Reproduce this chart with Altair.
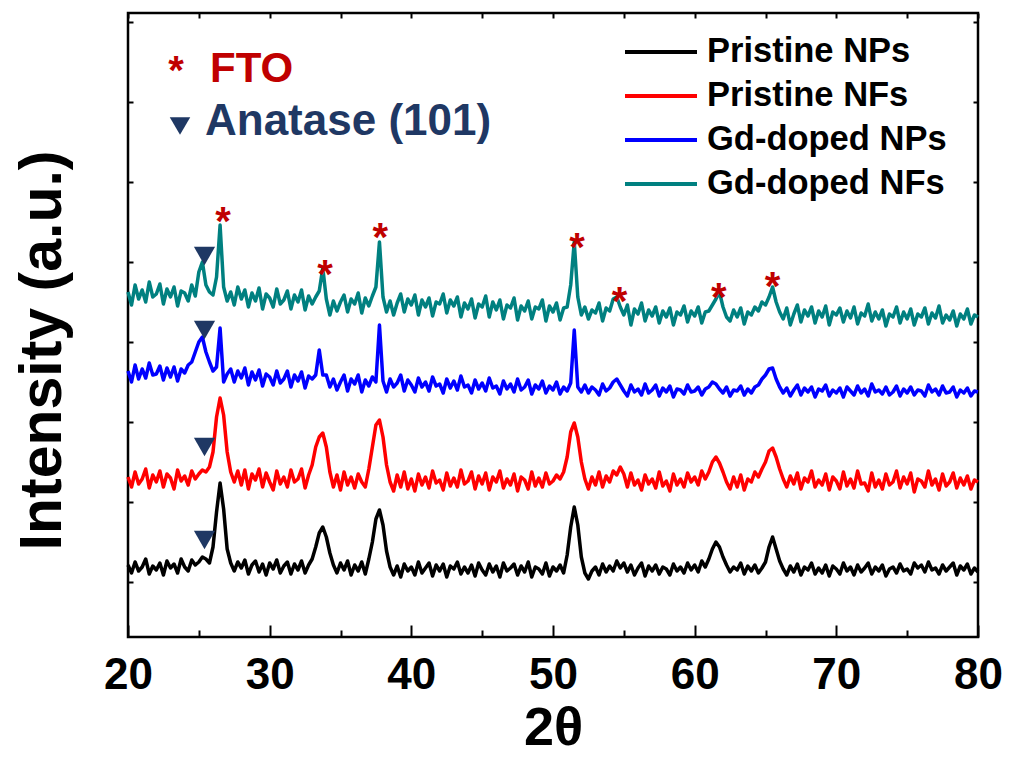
import altair as alt
import pandas as pd

# ---------------- data ----------------
theta = [round(20 + 0.25 * i, 2) for i in range(241)]  # 2-theta sample grid 20..80

series_names = ["Pristine NPs", "Pristine NFs", "Gd-doped NPs", "Gd-doped NFs"]
series_colors = ["#000000", "#ff0000", "#0000ff", "#008080"]

pristine_nps = [
    72, 64, 75, 66,  70, 78, 63, 71,  67, 74, 62, 76,  69, 73, 64, 78,  70, 66, 77, 72,   # 20-24
    75, 80, 78, 74,  90, 125, 154, 128,  88, 74, 66, 75,  69, 77, 63, 72,  76, 65, 73, 62,  # 25-29
    74, 68, 77, 64,  71, 75, 63, 73,  67, 76, 64, 72,  78, 90, 104, 110,  100, 84, 72, 64,  # 30-34
    74, 67, 76, 62,  72, 66, 75, 63,  78, 95, 118, 127,  112, 86, 70, 62,  71, 60, 73, 66,  # 35-39
    70, 62, 75, 64,  69, 74, 61, 72,  66, 73, 60, 71,  68, 75, 63, 70,  64, 72, 61, 74,   # 40-44
    67, 62, 73, 65,  71, 60, 74, 66,  69, 73, 62, 71,  65, 75, 60, 70,  68, 63, 74, 61,   # 45-49
    70, 66, 72, 64,  82, 110, 130, 112,  80, 64, 58, 66,  70, 62, 73, 65,  71, 66, 76, 69,  # 50-54
    74, 65, 72, 62,  69, 74, 61, 71,  66, 72, 63, 70,  68, 62, 73, 66,  70, 64, 74, 67,   # 55-59
    72, 65, 76, 70,  78, 88, 95, 90,  80, 72, 65, 70,  67, 74, 63, 71,  66, 72, 64, 69,   # 60-64
    75, 90, 100, 88,  76, 68, 62, 71,  65, 73, 62, 70,  67, 74, 63, 69,  64, 72, 61, 71,  # 65-69
    68, 63, 74, 66,  70, 62, 72, 65,  69, 74, 63, 70,  66, 72, 61, 68,  70, 64, 73, 66,   # 70-74
    68, 63, 74, 69,  72, 65, 75, 67,  69, 63, 72, 66,  70, 74, 62, 71,  67, 73, 63, 69,   # 75-79
    65,
]

pristine_nfs = [
    160, 150, 165, 153,  158, 168, 149, 162,  155, 166, 150, 163,  159, 148, 167, 156,  161, 152, 166, 158,
    163, 167, 165, 170,  185, 220, 239, 222,  185, 165, 155, 166,  152, 167, 148, 163,  157, 168, 150, 164,
    155, 147, 166, 153,  160, 150, 167, 155,  158, 168, 149, 162,  172, 190, 200, 204,  190, 165, 150, 162,
    147, 165, 152, 160,  149, 163, 155, 150,  168, 190, 212, 217,  200, 172, 155, 146,  162, 150, 165, 148,
    158, 146, 163, 152,  160, 149, 166, 154,  157, 147, 164, 151,  159, 150, 167, 153,  156, 165, 148, 161,
    153, 164, 147, 160,  155, 166, 149, 158,  152, 163, 146, 160,  157, 148, 165, 151,  159, 150, 164, 153,
    156, 162, 158, 165,  180, 205, 214, 200,  175, 158, 148, 160,  152, 165, 150, 161,  155, 166, 162, 170,
    163, 150, 164, 152,  157, 147, 162, 153,  158, 149, 165, 151,  156, 146, 163, 152,  158, 150, 164, 155,
    160, 152, 166, 158,  165, 175, 180, 174,  165, 155, 148, 160,  150, 162, 147, 158,  155, 165, 160, 168,
    175, 186, 189, 180,  168, 158, 150, 161,  153, 164, 148, 159,  155, 166, 150, 157,  152, 163, 147, 160,
    156, 148, 165, 151,  158, 149, 166, 153,  154, 146, 164, 150,  157, 148, 163, 152,  155, 166, 149, 160,
    153, 164, 145, 158,  156, 150, 166, 152,  158, 147, 163, 151,  155, 164, 149, 159,  152, 161, 148, 157,
    155,
]

gd_nps = [
    266, 255, 272, 258,  268, 259, 274, 262,  263, 271, 257, 269,  260, 270, 256, 268,  264, 272, 275, 285,
    295, 300, 285, 275,  266, 270, 309, 255,  263, 268, 255, 266,  259, 269, 252, 265,  257, 267, 251, 263,
    260, 252, 266, 254,  258, 266, 250, 262,  256, 265, 249, 261,  258, 262, 287, 262,  262, 250, 258, 247,
    255, 262, 246, 258,  253, 262, 245, 257,  251, 260, 255, 312,  256, 245, 258, 250,  254, 262, 246, 257,
    252, 245, 259, 250,  255, 246, 260, 251,  253, 244, 258, 249,  256, 247, 261, 250,  252, 244, 257, 248,
    254, 246, 259, 249,  251, 243, 256, 248,  253, 245, 258, 247,  250, 257, 243, 252,  248, 256, 244, 251,
    247, 255, 243, 250,  246, 254, 307, 250,  245, 252, 244, 250,  247, 242, 253, 246,  249, 255, 258, 252,
    246, 241, 252, 245,  248, 242, 253, 244,  247, 252, 241, 249,  245, 251, 240, 248,  247, 243, 252, 245,
    246, 250, 242, 248,  250, 255, 253, 248,  244, 250, 241, 247,  246, 251, 242, 248,  244, 250, 252, 258,
    262, 268, 269, 258,  250, 244, 249, 241,  247, 252, 242, 249,  245, 250, 240, 248,  246, 252, 241, 247,
    244, 249, 240, 250,  246, 242, 251, 244,  248, 241, 253, 245,  247, 243, 250, 242,  245, 251, 241, 248,
    244, 250, 242, 247,  246, 241, 252, 245,  248, 242, 251, 244,  245, 250, 240, 247,  244, 249, 241, 246,
    245,
]

gd_nfs = [
    345, 332, 352, 338,  347, 335, 355, 340,  343, 353, 333, 348,  340, 350, 331, 346,  344, 336, 352, 341,
    365, 375, 352, 345,  342, 360, 412, 350,  336, 345, 332, 350,  338, 347, 330, 344,  336, 349, 328, 343,
    339, 330, 348, 333,  337, 346, 328, 342,  335, 347, 327, 341,  333, 340, 346, 369,  338, 322, 336, 326,
    335, 342, 325, 338,  333, 344, 324, 339,  331, 341, 350, 395,  340, 325, 336, 322,  334, 343, 325, 338,
    332, 342, 322, 337,  330, 339, 321, 335,  333, 343, 324, 337,  331, 340, 320, 334,  328, 338, 319, 333,
    330, 341, 320, 335,  327, 337, 318, 332,  329, 339, 317, 331,  326, 336, 318, 330,  328, 337, 316, 331,
    325, 334, 317, 329,  330, 352, 395, 340,  322, 330, 318, 327,  324, 334, 316, 329,  326, 338, 340, 330,
    322, 332, 312, 328,  323, 334, 316, 327,  321, 330, 314, 326,  320, 329, 312, 325,  322, 331, 315, 326,
    321, 330, 314, 325,  326, 332, 338, 345,  330, 320, 316, 327,  320, 329, 313, 325,  322, 330, 326, 335,
    332, 340, 350, 335,  325, 318, 329, 312,  323, 332, 315, 327,  321, 330, 314, 326,  320, 331, 312, 325,
    322, 329, 315, 326,  319, 330, 313, 324,  321, 333, 316, 325,  318, 327, 311, 323,  320, 330, 314, 325,
    318, 328, 312, 323,  320, 329, 313, 324,  319, 331, 314, 322,  317, 326, 311, 323,  318, 328, 313, 322,
    320,
]

fto_theta = [26.7, 33.9, 37.8, 51.7, 54.7, 61.7, 65.5]
fto_intensity = [425, 372, 409, 399, 345, 349, 360]
anatase_theta = [25.4, 25.4, 25.4, 25.4]
anatase_intensity = [97, 190, 307, 381]

x_label_values = [20, 30, 40, 50, 60, 70, 80]
x_tick_values = [20, 25, 30, 35, 40, 45, 50, 55, 60, 65, 70, 75, 80]
y_tick_values = [55, 135, 215, 295, 375, 455, 535, 615]

# ---------------- tables ----------------
rows = []
for name, vals in zip(series_names, [pristine_nps, pristine_nfs, gd_nps, gd_nfs]):
    for t, v in zip(theta, vals):
        rows.append({"theta": t, "intensity": v, "series": name})
df = pd.DataFrame(rows)
fto_df = pd.DataFrame({"theta": fto_theta, "intensity": fto_intensity})
ana_df = pd.DataFrame({"theta": anatase_theta, "intensity": anatase_intensity})
one = pd.DataFrame({"k": [0]})

# ---------------- layout / style ----------------
W, H = 850, 624
SANS = "Liberation Sans, Arial, Helvetica, sans-serif"
FTO_RED = "#c00000"
NAVY = "#1f3864"

xs = alt.Scale(domain=[20, 80], nice=False, zero=False)
ys = alt.Scale(domain=[0, 624], nice=False, zero=False)

lines = alt.Chart(df).mark_line(strokeWidth=3.5, strokeJoin="round").encode(
    x=alt.X("theta:Q", scale=xs, axis=alt.Axis(
        orient="bottom", values=x_label_values, ticks=False, tickSize=0, domain=False,
        labelFlush=False, labelFont=SANS, labelFontSize=44, labelFontWeight="bold",
        labelColor="black", labelBaseline="alphabetic", labelPadding=51,
        title="2θ", titleFont=SANS, titleFontSize=54, titleFontWeight="bold",
        titleColor="black", titleBaseline="alphabetic", titleY=107)),
    y=alt.Y("intensity:Q", scale=ys, axis=alt.Axis(
        orient="left", ticks=False, labels=False, domain=False,
        title="Intensity (a.u.)", titleFont=SANS, titleFontSize=59, titleFontWeight="bold",
        titleColor="black", titleAngle=270, titleBaseline="alphabetic",
        titleAlign="center", titleX=-68, titleY=337)),
    color=alt.Color("series:N", scale=alt.Scale(domain=series_names, range=series_colors), legend=None),
    order=alt.Order("theta:Q"),
)

ticks_a = alt.Chart(fto_df).mark_point(opacity=0).encode(
    x=alt.X("theta:Q", scale=xs, axis=alt.Axis(
        orient="top", offset=-H, values=x_tick_values, labels=False, domain=False,
        tickSize={"condition": {"test": "datum.value % 10 === 0", "value": 12}, "value": 7},
        tickWidth=2, tickColor="black", title=None)),
    y=alt.Y("intensity:Q", scale=ys, axis=alt.Axis(
        orient="right", offset=-W, values=y_tick_values, labels=False, domain=False,
        tickSize=5, tickWidth=2, tickColor="black", title=None)),
)

ticks_b = alt.Chart(fto_df).mark_point(opacity=0).encode(
    x=alt.X("theta:Q", scale=xs, axis=alt.Axis(
        orient="bottom", offset=-H, values=x_tick_values, labels=False, domain=False,
        tickSize=5, tickWidth=2, tickColor="black", title=None)),
    y=alt.Y("intensity:Q", scale=ys, axis=alt.Axis(
        orient="left", offset=-W, values=y_tick_values, labels=False, domain=False,
        tickSize=5, tickWidth=2, tickColor="black", title=None)),
)

stars = alt.Chart(fto_df).mark_text(
    text="*", font=SANS, fontSize=40, fontWeight="bold", color=FTO_RED,
    align="center", baseline="middle", dy=11,
).encode(
    x=alt.X("theta:Q", scale=xs, axis=None),
    y=alt.Y("intensity:Q", scale=ys, axis=None),
)

tris = alt.Chart(ana_df).mark_point(
    shape="triangle-down", filled=True, size=450, color=NAVY, opacity=1,
).encode(
    x=alt.X("theta:Q", scale=xs, axis=None),
    y=alt.Y("intensity:Q", scale=ys, axis=None),
)

# top-left key
key_star = alt.Chart(one).mark_text(
    text="*", font=SANS, fontSize=40, fontWeight="bold", color=FTO_RED,
    align="center", baseline="middle", dy=11,
).encode(x=alt.value(48), y=alt.value(48))
key_fto = alt.Chart(one).mark_text(
    text="FTO", font=SANS, fontSize=42, fontWeight="bold", color=FTO_RED,
    align="left", baseline="alphabetic",
).encode(x=alt.value(82), y=alt.value(69))
key_tri = alt.Chart(one).mark_point(
    shape="triangle-down", filled=True, size=420, color=NAVY, opacity=1,
).encode(x=alt.value(52), y=alt.value(113))
key_ana = alt.Chart(one).mark_text(
    text="Anatase (101)", font=SANS, fontSize=44, fontWeight="bold", color=NAVY,
    align="left", baseline="alphabetic",
).encode(x=alt.value(77), y=alt.value(122))

# series key (top right)
LEG_X0, LEG_X1, LEG_TX, LEG_Y0, LEG_STEP = 497, 569, 579, 39, 44
legend_layers = []
for i, (name, col) in enumerate(zip(series_names, series_colors)):
    yy = LEG_Y0 + i * LEG_STEP
    legend_layers.append(
        alt.Chart(one).mark_rule(color=col, strokeWidth=4).encode(
            x=alt.value(LEG_X0), x2=alt.value(LEG_X1), y=alt.value(yy))
    )
    legend_layers.append(
        alt.Chart(one).mark_text(
            text=name, font=SANS, fontSize=34.5, fontWeight="bold", color="black",
            align="left", baseline="alphabetic",
        ).encode(x=alt.value(LEG_TX), y=alt.value(yy + 10))
    )

chart = alt.layer(
    lines, ticks_a, ticks_b, stars, tris, key_star, key_fto, key_tri, key_ana, *legend_layers
).resolve_axis(
    x="independent", y="independent"
).properties(
    width=W, height=H,
    autosize=alt.AutoSizeParams(type="none"),
    padding={"left": 120, "top": 5, "right": 24, "bottom": 118},
).configure_view(
    stroke="black", strokeWidth=2.5
).configure_axis(
    grid=False
)

chart.save("out.html", embed_options={"renderer": "svg", "actions": False})
